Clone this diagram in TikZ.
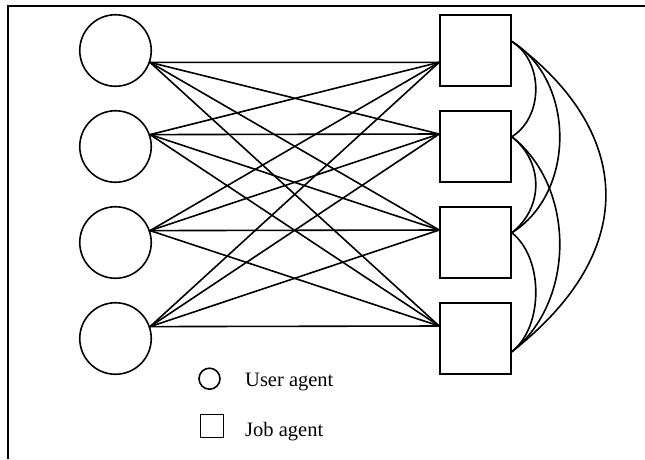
\documentclass[tikz,border=0pt]{standalone}
\usepackage{fontspec}
\setmainfont{Liberation Serif}
\begin{document}
\begin{tikzpicture}[x=1pt,y=-1pt,
  user/.style={draw,circle,inner sep=0pt,minimum size=71.5pt,line width=1.6pt},
  job/.style={draw,rectangle,inner sep=0pt,minimum size=71pt,line width=1.6pt},
  link/.style={line width=1.6pt},
  legendtext/.style={anchor=base west,inner sep=0pt,font=\fontsize{20.5}{24}\selectfont}]
\useasboundingbox (0,0) rectangle (645,459);
% frame
\draw[line width=1.8pt] (8,459) -- (8,6) -- (645,6);
% user agents
\node[user] (u1) at (115.5,50.5) {};
\node[user] (u2) at (115.5,146.5) {};
\node[user] (u3) at (115.5,242.5) {};
\node[user] (u4) at (115.5,338.5) {};
% job agents
\node[job] (j1) at (475.5,50.5) {};
\node[job] (j2) at (475.5,146.5) {};
\node[job] (j3) at (475.5,242.5) {};
\node[job] (j4) at (475.5,338.5) {};
% attachment points
\coordinate (o1) at (u1.-19.6);
\coordinate (o2) at (u2.19.6);
\coordinate (o3) at (u3.19.6);
\coordinate (o4) at (u4.19.6);
\coordinate (i1) at (j1.198.7);
\coordinate (i2) at (j2.161.3);
\coordinate (i3) at (j3.161.3);
\coordinate (i4) at (j4.161.3);
\coordinate (r1) at (j1.14.2);
\coordinate (r2) at (j2.15.7);
\coordinate (r3) at (j3.15.7);
\coordinate (r4) at (j4.-20.1);
% every user agent to every job agent
\foreach \a in {1,...,4}{
  \foreach \b in {1,...,4}{
    \draw[link] (o\a) -- (i\b);
  }
}
% job agents among themselves
\draw[link] (r1) .. controls +(32,20) and +(32,-20) .. (r2);
\draw[link] (r1) .. controls +(64,40) and +(64,-40) .. (r3);
\draw[link] (r1) .. controls +(110,80) and +(140,-110) .. (r4);
\draw[link] (r2) .. controls +(32,25) and +(32,-25) .. (r3);
\draw[link] (r2) .. controls +(64,50) and +(64,-50) .. (r4);
\draw[link] (r3) .. controls +(32,25) and +(32,-25) .. (r4);
% legend
\node[draw,circle,inner sep=0pt,minimum size=21pt,line width=1.6pt] (lu) at (209.5,378.7) {};
\node[draw,rectangle,inner sep=0pt,minimum size=23pt,line width=1.6pt] (lj) at (212,426) {};
\node[legendtext] (tu) at (245,386.7) {User agent};
\node[legendtext] (tj) at (245,436.5) {Job agent};
\end{tikzpicture}
\end{document}
